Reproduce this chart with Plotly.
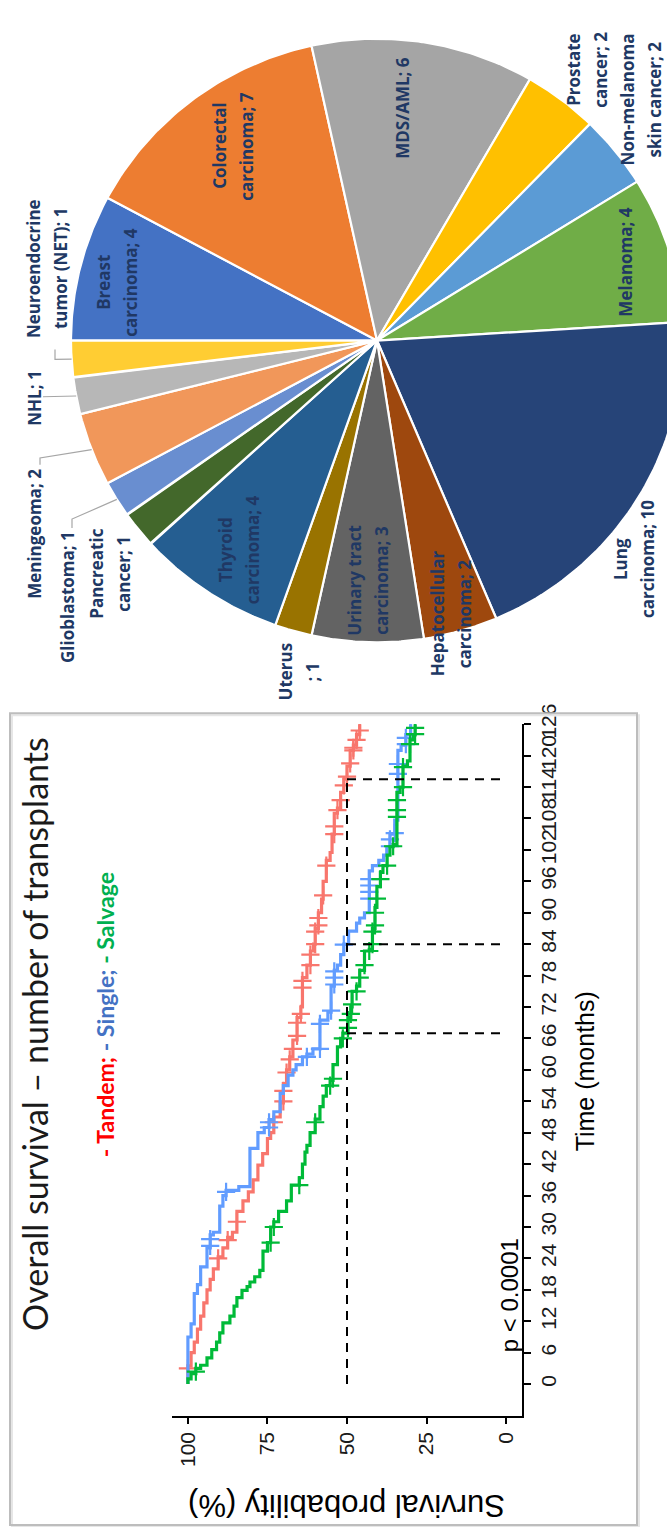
import numpy as np
import plotly.graph_objects as go

W, H = 667, 1527

# ---------------- Kaplan-Meier: overall survival by number of transplants ----------------
# step points: time (months) -> survival (%) after the event
tandem_time = [0, 3.5, 6, 8, 10.5, 13, 15.5, 18, 20, 22, 24.3, 26, 28, 29, 33, 35, 36.7, 39,
               41.8, 44, 46.9, 48, 51, 53.7, 57.4, 60, 62.5, 65.7, 70, 72, 77.6, 80, 82.7, 84,
               87, 90, 92.6, 96, 100, 101.5, 105, 109, 110, 113, 115.5, 118, 121, 122, 124]
tandem_surv = [100, 99, 98, 97, 96, 95, 94, 93, 92, 90.5, 89, 87.5, 86, 84.6, 82.7, 81, 79.5, 78,
               76.5, 75, 74, 73, 71, 70, 69, 68, 67, 65.7, 64.5, 64, 62.6, 61.5, 60.5, 60,
               59, 58, 57.5, 56.5, 55.3, 54.7, 54, 53, 52, 51, 50, 49, 48, 47, 46]
tandem_censor = [3, 24, 27.5, 31, 50, 54, 56, 59.5, 62, 64, 66.5, 69, 70.7, 75.7, 77, 80, 82, 84,
                 86.4, 87.6, 89, 93.3, 99, 105, 106.5, 109.6, 111.5, 114.3, 116, 118.5, 121,
                 121.5, 123, 124.8, 126.5]

single_time = [0, 9, 11.5, 17.3, 19, 22.4, 26, 28.5, 29, 34, 36, 37, 37.7, 45, 48, 49, 50.5, 52,
               55.5, 57, 59, 60, 61, 62.5, 63, 64, 69.5, 71, 76, 79, 80, 82, 84, 86.5, 88, 89,
               90, 98, 99, 100, 101, 102.6, 105, 107.7, 121, 122, 124]
single_surv = [100, 99, 98, 97, 96, 94, 93, 92, 90, 89, 88, 84, 80.5, 78, 76, 74.5, 73, 71,
               70, 68.5, 67, 66, 64, 62.6, 60.7, 58.5, 56, 55, 54, 53, 52, 51, 49.5, 47, 46, 44.5,
               43, 42, 40, 38.5, 37.5, 36.5, 35, 34, 33, 31.5, 30]
single_censor = [26.4, 27.7, 36.7, 49, 50, 62.5, 64, 68.8, 71.3, 76.3, 77.6, 78.8, 83.9, 92.7, 94,
                 95.2, 96.4, 102.7, 104, 105.2, 116.5, 118.4, 122.2, 123.4, 126.5]

salvage_time = [0, 1, 2, 3, 3.6, 5, 6.6, 8, 9.8, 11.7, 13, 14.9, 16.5, 17.9, 18.6, 19.5, 20.5,
                21.7, 25.4, 27, 30, 31, 33, 35, 38, 39.4, 42, 44.3, 45.6, 48, 50.6, 53, 55, 57,
                58, 61, 64.4, 66, 67, 70, 72, 75, 76, 79, 82.7, 83, 87, 91, 95, 97.7, 99, 101,
                102.6, 103, 113, 114, 118, 119, 123, 124]
salvage_surv = [100, 99, 97.5, 96, 94, 92.5, 91, 90, 89, 86.8, 85.5, 84.6, 83, 81.4, 80.5, 79, 77.4,
                76.4, 75, 74, 73, 71.5, 69, 67.5, 65, 64, 63.2, 62.6, 61.6, 60, 58.5, 57.5, 56.5, 55.3,
                54.4, 53, 52, 51.3, 49.7, 48.8, 48.4, 47, 46, 44.5, 43, 42, 41.2, 40.6, 39.5, 38.7, 37.4, 36.5,
                35.5, 34.3, 33.3, 32.4, 31, 30.2, 29.2, 28.6]
salvage_censor = [2.4, 27, 30, 38, 50, 57, 58.3, 66, 68, 69.5, 70.7, 72.5, 75, 77.6, 80, 82.7, 84,
                  86.4, 87.6, 90, 92.7, 96.4, 99, 102.7, 108.3, 109.6, 111.5, 114, 117.8, 122.2,
                  124.1, 125.3, 126.5]

median_times = [115.5, 84, 67]          # tandem, single, salvage
time_ticks = list(range(0, 127, 6))
surv_ticks = [0, 25, 50, 75, 100]

groups = [
    ("Tandem", tandem_time, tandem_surv, tandem_censor, "#F8766D"),
    ("Single", single_time, single_surv, single_censor, "#619CFF"),
    ("Salvage", salvage_time, salvage_surv, salvage_censor, "#00BA38"),
]

# ---------------- Secondary malignancies (pie) ----------------
pie_labels = ["Breast carcinoma", "Colorectal carcinoma", "MDS/AML", "Prostate cancer",
              "Non-melanoma skin cancer", "Melanoma", "Lung carcinoma", "Hepatocellular carcinoma",
              "Urinary tract carcinoma", "Uterus", "Thyroid carcinoma", "Pancreatic cancer",
              "Glioblastoma", "Meningeoma", "NHL", "Neuroendocrine tumor (NET)"]
pie_values = [4, 7, 6, 2, 2, 4, 10, 2, 3, 1, 4, 1, 1, 2, 1, 1]
pie_colors = ["#4472C4", "#ED7D31", "#A5A5A5", "#FFC000", "#5B9BD5", "#70AD47", "#264478",
              "#9E480E", "#636363", "#997300", "#255E91", "#43682B", "#698ED0", "#F1975A",
              "#B7B7B7", "#FFCD33"]

# where each label wraps onto a second line
label_break = {"Breast carcinoma": "Breast", "Colorectal carcinoma": "Colorectal",
               "Prostate cancer": "Prostate", "Non-melanoma skin cancer": "Non-melanoma",
               "Lung carcinoma": "Lung", "Hepatocellular carcinoma": "Hepatocellular",
               "Urinary tract carcinoma": "Urinary tract", "Uterus": "Uterus",
               "Thyroid carcinoma": "Thyroid", "Pancreatic cancer": "Pancreatic",
               "Neuroendocrine tumor (NET)": "Neuroendocrine"}

# label centres (pixel space of the pie panel)
label_xy = {"Breast carcinoma": (117, 265), "Colorectal carcinoma": (233, 127),
            "MDS/AML": (403, 88), "Prostate cancer": (587, 50),
            "Non-melanoma skin cancer": (641, 80), "Melanoma": (626, 245),
            "Lung carcinoma": (634, 546), "Hepatocellular carcinoma": (451, 601),
            "Urinary tract carcinoma": (368, 567), "Uterus": (299, 660),
            "Thyroid carcinoma": (239, 536), "Pancreatic cancer": (110, 561),
            "Glioblastoma": (68, 584), "Meningeoma": (35, 520), "NHL": (35, 383),
            "Neuroendocrine tumor (NET)": (47, 251)}
LINE_GAP = 27
# leader-line start points near the outside labels
leader_pts = {"Neuroendocrine tumor (NET)": [(55, 333), (55, 343)],
              "NHL": [(43, 381)],
              "Meningeoma": [(40, 450), (40, 443)],
              "Glioblastoma": [(72, 514), (72, 505)]}

PIE_CX, PIE_CY, PIE_R = 377, 324, 306
PIE_H = 690

fig = go.Figure()


def px(x):
    return x / W


def py(y):
    return 1 - y / H


def surv_at(times, surv, t):
    s = surv[0]
    for ti, si in zip(times, surv):
        if ti <= t:
            s = si
    return s


# ---- survival curves (time runs up the page, survival runs right-to-left) ----
for name, t, s, cens, col in groups:
    end_t = max(cens)
    xs = list(s) + [s[-1]]
    ys = list(t) + [end_t]
    fig.add_trace(go.Scatter(x=xs, y=ys, mode="lines", line=dict(color=col, width=3.2, shape="vh"),
                             xaxis="x", yaxis="y", hoverinfo="skip", name=name))
    fig.add_trace(go.Scatter(x=[surv_at(t, s, c) for c in cens], y=cens, mode="markers",
                             marker=dict(symbol="cross-thin", size=13, line=dict(color=col, width=2.2)),
                             xaxis="x", yaxis="y", hoverinfo="skip", name=name + " censored"))

# median survival guides
mx, my = [50, 50, None], [0, max(median_times), None]
for m in median_times:
    mx += [50, 0, None]
    my += [m, m, None]
fig.add_trace(go.Scatter(x=mx, y=my, mode="lines", line=dict(color="black", width=2, dash="9px,7px"),
                         xaxis="x", yaxis="y", hoverinfo="skip"))

# ---- pie slices, drawn clockwise from the left ----
total = sum(pie_values)
start = 0.0
mid_angles = {}
for lab, v, col in zip(pie_labels, pie_values, pie_colors):
    a0 = start
    a1 = start + 360.0 * v / total
    th = np.radians(np.linspace(a0, a1, 60))
    xs = [PIE_CX] + list(PIE_CX - PIE_R * np.cos(th)) + [PIE_CX]
    ys = [PIE_CY] + list(PIE_CY - PIE_R * np.sin(th)) + [PIE_CY]
    fig.add_trace(go.Scatter(x=xs, y=ys, mode="lines", fill="toself", fillcolor=col,
                             line=dict(color="white", width=2.2), xaxis="x2", yaxis="y2",
                             hoverinfo="skip", name=lab))
    mid_angles[lab] = np.radians((a0 + a1) / 2)
    start = a1

# leader lines
for lab, pts in leader_pts.items():
    a = mid_angles[lab]
    ex, ey = PIE_CX - PIE_R * np.cos(a), PIE_CY - PIE_R * np.sin(a)
    fig.add_trace(go.Scatter(x=[p[0] for p in pts] + [ex], y=[p[1] for p in pts] + [ey],
                             mode="lines", line=dict(color="#A6A6A6", width=1.2),
                             xaxis="x2", yaxis="y2", hoverinfo="skip"))

label_font = dict(family="Open Sans", size=17, color="#203864", weight="bold")
annotations = []
for lab, v in zip(pie_labels, pie_values):
    head = label_break.get(lab)
    x, y = label_xy[lab]
    if head is None:
        lines = [f"{lab}; {v}"]
    else:
        lines = [head, f"{lab[len(head):].strip()}; {v}"]
    n = len(lines)
    for i, line in enumerate(lines):
        dx = (i - (n - 1) / 2) * LINE_GAP
        annotations.append(dict(x=x + dx, y=y, xref="x2", yref="y2", text=line, showarrow=False,
                                textangle=-90, xanchor="center", yanchor="middle",
                                font=label_font))

# ---- texts of the survival panel ----
annotations += [
    dict(x=px(35), y=py(1027), xref="paper", yref="paper", xanchor="center", yanchor="middle",
         text="Overall survival \u2013 number of transplants", textangle=-90, showarrow=False,
         font=dict(family="Lato", size=34, color="#1a1a1a")),
    dict(x=px(105), y=py(1008), xref="paper", yref="paper", xanchor="center", yanchor="middle",
         text="<span style='color:#FF0000'>- Tandem;</span> <span style='color:#4472C4'>- Single;</span> "
              "<span style='color:#00B050'>- Salvage</span>",
         textangle=-90, showarrow=False,
         font=dict(family="Lato", size=23, color="#1a1a1a", weight="bold")),
    dict(x=px(509), y=py(1292), xref="paper", yref="paper", xanchor="center", yanchor="middle",
         text="p < 0.0001", textangle=-90, showarrow=False,
         font=dict(family="Liberation Sans", size=24, color="black")),
    dict(x=px(585), y=py(1065), xref="paper", yref="paper", xanchor="center", yanchor="middle",
         text="Time (months)", textangle=-90, showarrow=False,
         font=dict(family="Liberation Sans", size=25, color="black")),
    dict(x=px(347), y=py(1505), xref="paper", yref="paper", xanchor="center", yanchor="middle",
         text="Survival probability (%)", textangle=180, showarrow=False,
         font=dict(family="Liberation Sans", size=31, color="black")),
]

axis_font = dict(family="Liberation Sans", size=21, color="#1a1a1a")
fig.update_layout(
    width=W, height=H, autosize=False, showlegend=False,
    margin=dict(l=0, r=0, t=0, b=0),
    paper_bgcolor="white", plot_bgcolor="white",
    xaxis=dict(domain=[px(172), px(522)], range=[105, -5], anchor="y", side="bottom",
               showline=True, linecolor="black", linewidth=2, ticks="outside", ticklen=6,
               tickwidth=2, tickcolor="black", tickvals=surv_ticks, tickangle=-90,
               tickfont=axis_font, showgrid=False, zeroline=False, fixedrange=True),
    yaxis=dict(domain=[py(1414), py(713)], range=[-6, 126], anchor="x", side="right",
               showline=True, linecolor="black", linewidth=2, ticks="outside", ticklen=7,
               tickwidth=2, tickcolor="black", tickvals=time_ticks, tickangle=-90,
               tickfont=axis_font, showgrid=False, zeroline=False, fixedrange=True),
    xaxis2=dict(domain=[0, 1], range=[0, W], visible=False, anchor="y2", fixedrange=True),
    yaxis2=dict(domain=[py(PIE_H), 1], range=[PIE_H, 0], visible=False, anchor="x2", fixedrange=True),
    annotations=annotations,
    shapes=[
        dict(type="rect", xref="paper", yref="paper", x0=px(12), x1=px(639), y0=py(704), y1=py(1527),
             line=dict(color="#e6e6e6", width=2)),
        dict(type="rect", xref="paper", yref="paper", x0=px(10), x1=px(637), y0=py(702), y1=py(1525),
             line=dict(color="#bdbdbd", width=2)),
    ],
)

fig.write_html("out.html")
